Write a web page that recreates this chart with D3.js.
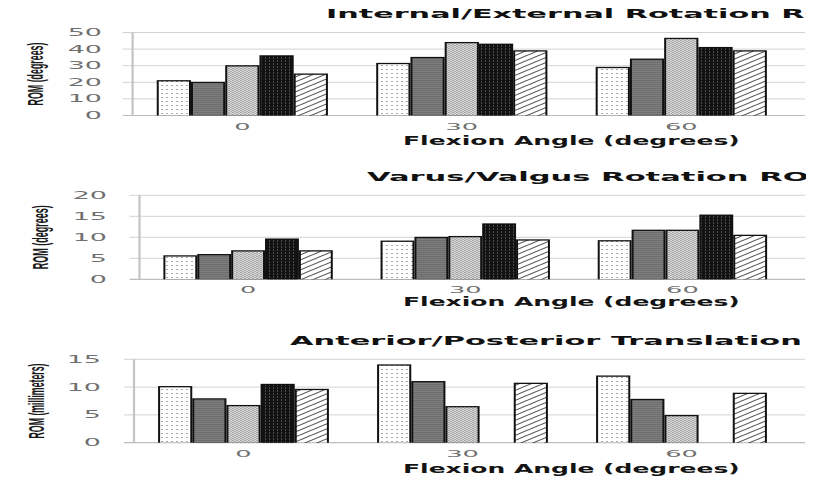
<!DOCTYPE html>
<html><head><meta charset="utf-8">
<script src="https://cdn.jsdelivr.net/npm/d3@7"></script>
<style>html,body{margin:0;padding:0;background:#fff;overflow:hidden}</style>
</head><body>
<svg id="chart" width="818" height="479"></svg>
<script>
// ---------- data ----------
const categories = ["0", "30", "60"];
const seriesNames = ["Series 1", "Series 2", "Series 3", "Series 4", "Series 5"];
// rows = series, columns = flexion angle categories
const ieValues = [
  [21, 31.4, 29],
  [20, 35, 34],
  [30, 44, 46.5],
  [36, 43, 41],
  [25, 39, 39]
];
const vvValues = [
  [5.6, 9.1, 9.2],
  [5.9, 10, 11.7],
  [6.8, 10.2, 11.7],
  [9.6, 13.2, 15.3],
  [6.8, 9.4, 10.5]
];
const apValues = [
  [10.1, 14.0, 12.0],
  [7.9, 11.0, 7.8],
  [6.7, 6.5, 4.9],
  [10.5, null, null],
  [9.6, 10.7, 8.9]
];
const ieTicks = [0, 10, 20, 30, 40, 50];
const vvTicks = [0, 5, 10, 15, 20];
const apTicks = [0, 5, 10, 15];
const titles = ["Internal/External Rotation ROM", "Varus/Valgus Rotation ROM", "Anterior/Posterior Translation ROM"];
const yLabels = ["ROM (degrees)", "ROM (degrees)", "ROM (millimeters)"];
const xLabel = "Flexion Angle (degrees)";

// ---------- layout ----------
const layouts = [
  {values: ieValues, ticks: ieTicks, top: 32.5, bottom: 115.5, axisX: 132.6, tickRight: 102, yLabelX: 35, yLabelLen: 63,
   titleX: 326, titleY: 17.5, titleVis: 28, titleEnd: 805, xTickY: 130, xTitleY: 145},
  {values: vvValues, ticks: vvTicks, top: 195.3, bottom: 279.3, axisX: 139.5, tickRight: 107, yLabelX: 40, yLabelLen: 64,
   titleX: 367, titleY: 180.7, titleVis: 23, titleEnd: 783, xTickY: 293, xTitleY: 305.5},
  {values: apValues, ticks: apTicks, top: 359.3, bottom: 442.7, axisX: 134, tickRight: 101, yLabelX: 36, yLabelLen: 75,
   titleX: 290, titleY: 345, titleVis: 30, titleEnd: 802, xTickY: 456.5, xTitleY: 473}
];
const plotRight = 791, gridRight = 805, chartRight = 806;

const svg = d3.select("#chart");
const defs = svg.append("defs");
defs.append("clipPath").attr("id", "chartClip")
  .append("rect").attr("x", 0).attr("y", 0).attr("width", chartRight).attr("height", 479);

// patterns
function pat(id, w, h, bg) {
  const p = defs.append("pattern").attr("id", id).attr("patternUnits", "userSpaceOnUse")
    .attr("width", w).attr("height", h);
  p.append("rect").attr("width", w).attr("height", h).attr("fill", bg);
  return p;
}
let p = pat("p1", 5, 4, "#ffffff");
p.append("rect").attr("x", 1).attr("y", 1).attr("width", 2).attr("height", 1).attr("fill", "#a8a8a8");
p = pat("p2", 4, 2, "#7f7f7f");
p.append("rect").attr("x", 0).attr("y", 0).attr("width", 4).attr("height", 1).attr("fill", "#6c6c6c");
p = pat("p3", 4, 2, "#d6d6d6");
p.append("rect").attr("x", 0).attr("y", 0).attr("width", 2).attr("height", 1).attr("fill", "#a5a5a5");
p.append("rect").attr("x", 2).attr("y", 1).attr("width", 2).attr("height", 1).attr("fill", "#b0b0b0");
p = pat("p4", 4, 3, "#121212");
p.append("rect").attr("x", 1).attr("y", 0).attr("width", 1).attr("height", 2).attr("fill", "#4a4a4a");
p = pat("p5", 12, 5, "#ffffff");
p.append("path").attr("d", "M-12,5 L12,-5 M0,5 L12,0 M0,10 L24,0 M-12,10 L12,0").attr("stroke", "#555").attr("stroke-width", 1.1);
const fills = ["url(#p1)", "url(#p2)", "url(#p3)", "url(#p4)", "url(#p5)"];

function stretched(g, x, y, sx, txt, opts) {
  const t = g.append("text").attr("transform", `translate(${x},${y}) scale(${sx},1)`).text(txt);
  Object.entries(opts || {}).forEach(([k, v]) => t.attr(k, v));
  return t;
}

layouts.forEach((L, pi) => {
  const g = svg.append("g");
  const y = d3.scaleLinear().domain([0, d3.max(L.ticks)]).range([L.bottom, L.top]);
  const x0 = d3.scaleBand().domain(categories).range([L.axisX, plotRight]).paddingInner(0.22).paddingOuter(0.11);
  const x1 = d3.scaleBand().domain(d3.range(seriesNames.length)).range([0, x0.bandwidth()]);

  // gridlines
  g.selectAll(".grid").data(L.ticks.filter(t => t > 0)).join("line")
    .attr("x1", L.axisX - 10).attr("x2", gridRight)
    .attr("y1", d => y(d)).attr("y2", d => y(d))
    .attr("stroke", "#d3d3d3").attr("stroke-width", 1);
  // baseline
  g.append("line").attr("x1", L.axisX - 10).attr("x2", gridRight).attr("y1", y(0)).attr("y2", y(0))
    .attr("stroke", "#bdbdbd").attr("stroke-width", 1.2);
  // vertical axis line
  g.append("line").attr("x1", L.axisX).attr("x2", L.axisX).attr("y1", y(d3.max(L.ticks))).attr("y2", y(0))
    .attr("stroke", "#c4c4c4").attr("stroke-width", 2.2);

  // y tick labels
  L.ticks.forEach(t => {
    stretched(g, L.tickRight, y(t), 2.7, String(t), {
      "text-anchor": "end", "dominant-baseline": "central",
      "font-family": "DejaVu Sans", "font-size": "10px", fill: "#707070"
    });
  });
  // x tick labels
  categories.forEach(c => {
    stretched(g, x0(c) + x0.bandwidth() / 2, L.xTickY, 2.7, c, {
      "text-anchor": "middle", "font-family": "DejaVu Sans", "font-size": "9.5px", fill: "#707070"
    });
  });

  // bars
  const bars = [];
  L.values.forEach((row, si) => row.forEach((v, ci) => {
    if (v != null) bars.push({si, ci, v});
  }));
  const bg = g.append("g");
  bars.forEach(b => {
    const bx = x0(categories[b.ci]) + x1(b.si);
    const bw = x1.bandwidth();
    const by = y(b.v);
    const bh = y(0) - y(b.v);
    bg.append("rect").attr("x", bx).attr("y", by - 0.5).attr("width", bw).attr("height", bh + 0.5).attr("fill", "#111");
    bg.append("rect").attr("x", bx + 2).attr("y", by + 0.8).attr("width", bw - 4).attr("height", Math.max(0, bh - 0.8))
      .attr("fill", fills[b.si]);
  });

  // title (fit visible portion, clipped at chart edge like the reference)
  const tt = svg.append("g").attr("clip-path", "url(#chartClip)").append("text")
    .attr("font-family", "DejaVu Sans").attr("font-weight", "bold")
    .attr("font-size", "12.5px").attr("fill", "#111").text(titles[pi]);
  const vis = tt.node().getSubStringLength(0, L.titleVis);
  const tsx = (L.titleEnd - L.titleX) / vis;
  tt.attr("transform", `translate(${L.titleX},${L.titleY}) scale(${tsx},1)`);

  // x axis title
  const xt = svg.append("text").attr("font-family", "DejaVu Sans").attr("font-weight", "bold")
    .attr("font-size", "12px").attr("fill", "#141414").text(xLabel);
  const xw = xt.node().getComputedTextLength();
  xt.attr("transform", `translate(403,${L.xTitleY}) scale(${(740 - 403) / xw},1)`);

  // y axis title (rotated)
  svg.append("text")
    .attr("transform", `translate(${L.yLabelX},${(L.top + L.bottom) / 2}) scale(2.5,1) rotate(-90)`)
    .attr("text-anchor", "middle").attr("dominant-baseline", "central")
    .attr("font-family", "Liberation Sans").attr("font-weight", "bold").attr("font-size", "9px").attr("fill", "#1a1a1a")
    .attr("textLength", L.yLabelLen).attr("lengthAdjust", "spacingAndGlyphs")
    .text(yLabels[pi]);
});
</script>
</body></html>
